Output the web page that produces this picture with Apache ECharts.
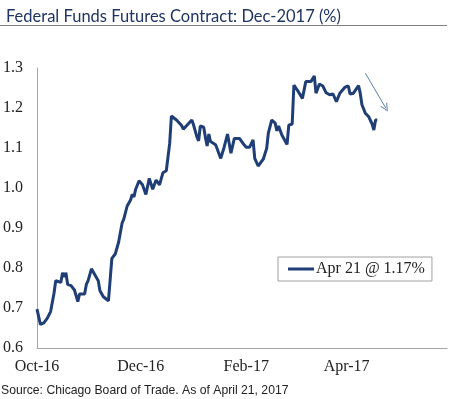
<!DOCTYPE html>
<html>
<head>
<meta charset="utf-8">
<script src="https://cdn.jsdelivr.net/npm/echarts@6/dist/echarts.min.js"></script>
<style>
html,body{margin:0;padding:0;background:#fff;}
#c{width:450px;height:399px;}
</style>
</head>
<body>
<div id="c"></div>
<script>
var titleText = 'Federal Funds Futures Contract: Dec-2017 (%)';
var sourceText = 'Source: Chicago Board of Trade. As of April 21, 2017';
var seriesName = 'Apr 21 @ 1.17%';

var dates = [
 '2016-10-03','2016-10-05','2016-10-07','2016-10-09','2016-10-11','2016-10-13','2016-10-14','2016-10-17','2016-10-18','2016-10-19',
 '2016-10-20','2016-10-21','2016-10-23','2016-10-25','2016-10-27','2016-10-28','2016-10-31','2016-11-01','2016-11-02','2016-11-04',
 '2016-11-06','2016-11-08','2016-11-09','2016-11-11','2016-11-14','2016-11-16','2016-11-18','2016-11-20','2016-11-22','2016-11-23',
 '2016-11-24','2016-11-25','2016-11-27','2016-11-28','2016-11-29','2016-11-30','2016-12-02','2016-12-04','2016-12-06','2016-12-08',
 '2016-12-10','2016-12-12','2016-12-14','2016-12-16','2016-12-18','2016-12-19','2016-12-20','2016-12-21','2016-12-22','2016-12-24',
 '2016-12-27','2016-12-28','2016-12-29','2017-01-02','2017-01-03','2017-01-05','2017-01-06','2017-01-07','2017-01-09','2017-01-10',
 '2017-01-11','2017-01-12','2017-01-13','2017-01-14','2017-01-16','2017-01-17','2017-01-18','2017-01-19','2017-01-21','2017-01-23',
 '2017-01-25','2017-01-27','2017-01-30','2017-02-01','2017-02-03','2017-02-05','2017-02-07','2017-02-08','2017-02-09','2017-02-10',
 '2017-02-13','2017-02-15','2017-02-16','2017-02-18','2017-02-20','2017-02-21','2017-02-22','2017-02-24','2017-02-27','2017-02-28',
 '2017-03-02','2017-03-03','2017-03-05','2017-03-08','2017-03-10','2017-03-13','2017-03-15','2017-03-16','2017-03-18','2017-03-20',
 '2017-03-22','2017-03-24','2017-03-26','2017-03-28','2017-03-30','2017-04-02','2017-04-04','2017-04-05','2017-04-07','2017-04-10',
 '2017-04-11','2017-04-12','2017-04-14','2017-04-16','2017-04-18','2017-04-19','2017-04-20','2017-04-21'
];
var values = [
 0.697,0.659,0.663,0.674,0.691,0.737,0.768,0.764,0.788,0.778,
 0.788,0.759,0.756,0.745,0.716,0.735,0.735,0.759,0.768,0.798,
 0.783,0.768,0.743,0.728,0.718,0.824,0.835,0.865,0.912,0.922,
 0.922,0.955,0.970,0.984,0.978,0.997,1.018,1.008,0.984,1.024,
 0.997,1.020,1.008,1.038,1.043,1.043,1.112,1.180,1.183,1.170,
 1.156,1.147,1.143,1.170,1.158,1.128,1.118,1.155,1.152,1.126,
 1.105,1.135,1.116,1.116,1.108,1.097,1.102,1.074,1.102,1.135,
 1.087,1.124,1.124,1.112,1.102,1.102,1.120,1.074,1.070,1.055,
 1.072,1.099,1.138,1.170,1.162,1.143,1.155,1.132,1.109,1.157,
 1.160,1.257,1.245,1.224,1.266,1.266,1.280,1.237,1.260,1.255,
 1.238,1.233,1.235,1.216,1.237,1.252,1.255,1.235,1.237,1.256,
 1.237,1.208,1.187,1.178,1.160,1.145,1.170,1.170
];

var xTickDates = ['2016-10-03','2016-12-03','2017-02-03','2017-04-03'];
var xTickLabels = ['Oct-16','Dec-16','Feb-17','Apr-17'];
var xMinDate = '2016-10-03';
var xMaxDate = '2017-06-01';
var yMin = 0.6, yMax = 1.3, yStep = 0.1;

var arrowFrom = ['2017-04-14', 1.287];
var arrowTo = ['2017-04-26', 1.200];

function ts(s){ var p = s.split('-'); return Date.UTC(+p[0], +p[1]-1, +p[2]); }

var tickTs = xTickDates.map(ts);
var seriesData = dates.map(function(d,i){ return [ts(d), values[i]]; });

var chevron = 'path://M0,10 L5,0 L10,10 L8.6,10 L5,2.6 L1.4,10 Z';

var chart = echarts.init(document.getElementById('c'), null, {renderer:'canvas'});
chart.setOption({
  animation:false,
  backgroundColor:'#fff',
  title:{
    text:titleText, left:1, top:3,
    textStyle:{fontFamily:'Lato', fontWeight:'normal', fontSize:16.5, color:'#1f3465'}
  },
  graphic:[
    {type:'line', shape:{x1:0,y1:25.5,x2:447,y2:25.5}, style:{stroke:'#808080', lineWidth:1}},
    {type:'text', left:1, top:385, style:{text:sourceText, font:'12.2px "Liberation Sans"', fill:'#222'}}
  ],
  legend:{
    left:278, top:257, orient:'horizontal',
    borderColor:'#a0a0a0', borderWidth:1, borderRadius:0,
    padding:[4,7,4,10],
    icon:'rect', itemWidth:26, itemHeight:3,
    textStyle:{fontFamily:'Liberation Serif', fontSize:16, color:'#222', padding:[0,0,0,-3]},
    data:[seriesName]
  },
  grid:{left:37, right:3, top:68, bottom:51, outerBoundsMode:'none'},
  xAxis:{
    type:'value', min:ts(xMinDate), max:ts(xMaxDate),
    axisLine:{show:true, lineStyle:{color:'#a6a6a6', width:1}},
    axisTick:{show:false},
    splitLine:{show:false},
    axisLabel:{
      customValues:tickTs,
      margin:11,
      fontFamily:'Liberation Serif', fontSize:16, color:'#222',
      formatter:function(v){ var i = tickTs.indexOf(v); return i>=0 ? xTickLabels[i] : ''; }
    }
  },
  yAxis:{
    type:'value', min:yMin, max:yMax, interval:yStep,
    axisLine:{show:true, lineStyle:{color:'#a6a6a6', width:1}},
    axisTick:{show:false},
    splitLine:{show:false},
    axisLabel:{
      margin:14,
      fontFamily:'Liberation Serif', fontSize:16, color:'#222',
      formatter:function(v){ return v.toFixed(1); }
    }
  },
  series:[{
    name:seriesName, type:'line', data:seriesData,
    showSymbol:false, symbol:'none',
    lineStyle:{color:'#1f3e76', width:3},
    itemStyle:{color:'#1f3e76'},
    markLine:{
      silent:true, animation:false,
      symbol:['none', chevron], symbolSize:8, symbolOffset:[0,0],
      label:{show:false},
      lineStyle:{color:'#5b80a8', width:1, type:'solid'},
      itemStyle:{color:'#5b80a8'},
      data:[[{coord:[ts(arrowFrom[0]), arrowFrom[1]]},{coord:[ts(arrowTo[0]), arrowTo[1]]}]]
    }
  }]
});
</script>
</body>
</html>
